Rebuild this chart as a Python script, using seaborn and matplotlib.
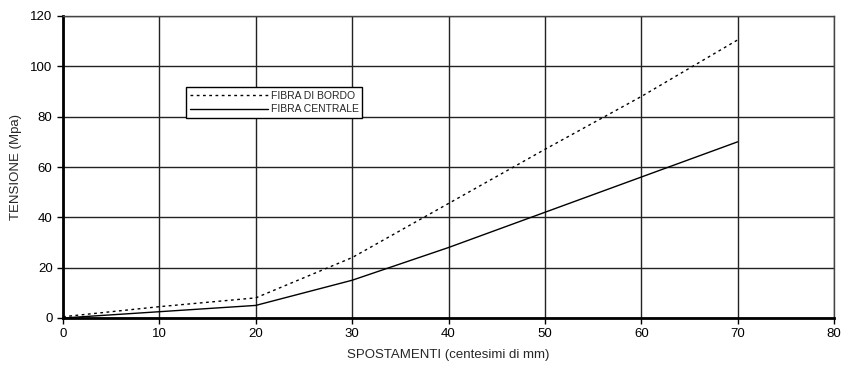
import pandas as pd
import matplotlib
matplotlib.use("Agg")
import matplotlib.pyplot as plt
import seaborn as sns

# dati
spostamenti = [0, 10, 20, 30, 40, 50, 60, 70]
fibra_bordo = [0.5, 4.5, 8, 24, 45.5, 67, 88, 110.5]
fibra_centrale = [0, 2.5, 5, 15, 28, 42, 56, 70]
serie = ["FIBRA DI BORDO", "FIBRA CENTRALE"]

df = pd.DataFrame({
    "x": spostamenti * 2,
    "y": fibra_bordo + fibra_centrale,
    "serie": [serie[0]] * len(spostamenti) + [serie[1]] * len(spostamenti),
})

sns.set_style("white")
plt.rcParams['font.family'] = ['Liberation Sans', 'DejaVu Sans']

fig = plt.figure(figsize=(8.41, 3.65), dpi=100)
ax = fig.add_axes([63 / 841, 47 / 365, 771 / 841, 302 / 365])

sns.lineplot(data=df, x="x", y="y", style="serie", style_order=serie,
             dashes={serie[0]: (2, 2.5), serie[1]: ""}, color="black",
             linewidth=1.0, ax=ax, legend=True)

ax.set_xlim(0, 80)
ax.set_ylim(0, 120)
ax.set_xticks(range(0, 81, 10))
ax.set_yticks(range(0, 121, 20))
ax.grid(True, color="#222222", linewidth=1.0)
ax.set_axisbelow(True)

for s in ["top", "right"]:
    ax.spines[s].set_color("#444444")
    ax.spines[s].set_linewidth(1.0)
for s in ["left", "bottom"]:
    ax.spines[s].set_color("black")
    ax.spines[s].set_linewidth(2.0)

ax.tick_params(axis="both", direction="out", length=4, width=1, colors="black",
               labelsize=9.5, bottom=True, left=True)
ax.set_xlabel("SPOSTAMENTI (centesimi di mm)", fontsize=9.5, labelpad=6)
ax.set_ylabel("TENSIONE (Mpa)", fontsize=9.5, labelpad=6)

leg = ax.legend(title=None, loc="upper left", bbox_to_anchor=(123 / 771, 231 / 302),
                borderaxespad=0, frameon=True, fancybox=False, edgecolor="black",
                fontsize=7.5, handlelength=7.5, handletextpad=0.3, borderpad=0.35,
                labelspacing=0.35, framealpha=1)
leg.get_frame().set_linewidth(1.0)

fig.savefig("out.png", dpi=100)
